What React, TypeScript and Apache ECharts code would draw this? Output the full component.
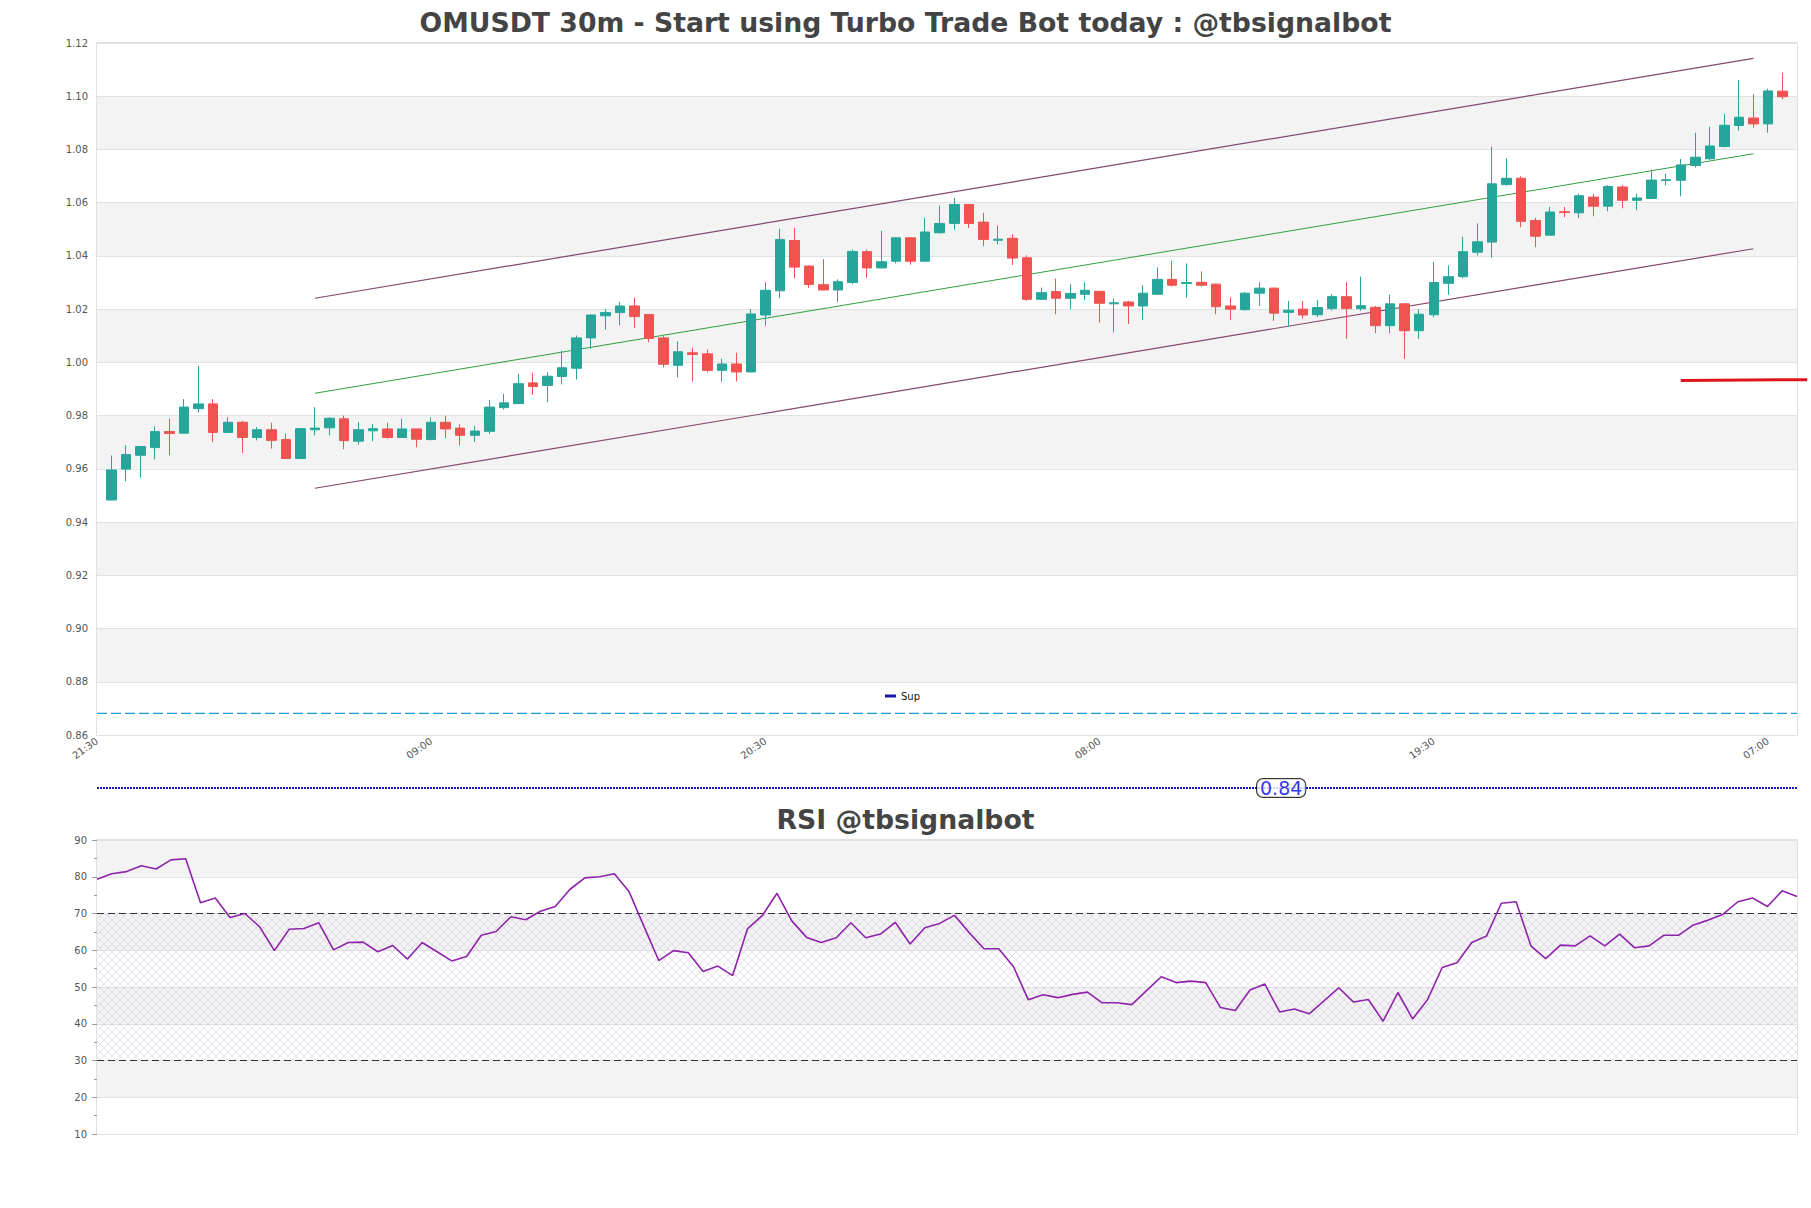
import React, { useEffect, useRef } from 'react';
import * as echarts from 'echarts';

// ---- Candles (30m), index 0 = 22:00 ----
const OPEN = [
  0.9483, 0.9599, 0.9651, 0.968, 0.974, 0.9734, 0.9826, 0.9844, 0.9737, 0.9775,
  0.9718, 0.9747, 0.971, 0.9639, 0.9747, 0.9754, 0.9788, 0.9704, 0.9743, 0.975,
  0.9718, 0.975, 0.971, 0.9775, 0.9753, 0.9726, 0.9741, 0.983, 0.9845, 0.9923,
  0.9913, 0.9947, 0.9978, 1.0092, 1.0175, 1.0187, 1.0212, 1.018, 1.0092, 0.9989,
  1.0036, 1.0032, 0.997, 0.9994, 0.9964, 1.0178, 1.0269, 1.0458, 1.0362, 1.0292,
  1.0272, 1.03, 1.0416, 1.0355, 1.038, 1.0468, 1.038, 1.0487, 1.0522, 1.0593,
  1.0527, 1.0459, 1.0466, 1.0393, 1.0237, 1.0266, 1.0241, 1.0256, 1.0267, 1.022,
  1.0227, 1.0212, 1.0256, 1.0312, 1.0296, 1.0301, 1.0294, 1.0212, 1.0198, 1.026,
  1.0279, 1.0188, 1.02, 1.0179, 1.0202, 1.0247, 1.0202, 1.0207, 1.0138, 1.022,
  1.0119, 1.0179, 1.0297, 1.0322, 1.0414, 1.0452, 1.0668, 1.0692, 1.0533, 1.0478,
  1.0566, 1.0562, 1.0621, 1.0587, 1.0659, 1.0609, 1.0616, 1.0683, 1.0684, 1.074,
  1.0765, 1.0811, 1.089, 1.0918, 1.0896, 1.1019,
];
const CLOSE = [
  0.9596, 0.9654, 0.9684, 0.974, 0.9733, 0.9832, 0.9844, 0.9737, 0.9775, 0.9718,
  0.9747, 0.9707, 0.9639, 0.9751, 0.9753, 0.979, 0.9706, 0.9747, 0.9751, 0.9718,
  0.975, 0.9711, 0.9775, 0.975, 0.9726, 0.9742, 0.9832, 0.9848, 0.992, 0.9909,
  0.9948, 0.998, 1.0092, 1.0178, 1.0187, 1.0212, 1.0172, 1.009, 0.9993, 1.004,
  1.003, 0.997, 0.9994, 0.9964, 1.0182, 1.0271, 1.0462, 1.0358, 1.0293, 1.0272,
  1.0303, 1.0417, 1.0355, 1.0378, 1.0468, 1.038, 1.049, 1.0522, 1.0593, 1.0522,
  1.0462, 1.0463, 1.0392, 1.0237, 1.0262, 1.0241, 1.0259, 1.0271, 1.0222, 1.0224,
  1.0212, 1.026, 1.0312, 1.029, 1.03, 1.029, 1.0209, 1.02, 1.026, 1.0279,
  1.0185, 1.0196, 1.0178, 1.0206, 1.0247, 1.0202, 1.0213, 1.0138, 1.022, 1.0119,
  1.0181, 1.03, 1.0322, 1.0416, 1.0453, 1.0671, 1.0692, 1.053, 1.0474, 1.0565,
  1.0563, 1.0626, 1.0587, 1.0661, 1.0609, 1.0618, 1.0685, 1.0686, 1.0742, 1.0771,
  1.0813, 1.0891, 1.0921, 1.0896, 1.102, 1.0998,
];
const LOW = [
  0.9483, 0.9554, 0.9568, 0.9636, 0.9651, 0.9734, 0.9812, 0.9701, 0.9737, 0.966,
  0.9707, 0.9676, 0.9639, 0.9639, 0.9726, 0.9726, 0.9674, 0.9691, 0.9704, 0.9713,
  0.9718, 0.9681, 0.9707, 0.9716, 0.9688, 0.9701, 0.9731, 0.9823, 0.9845, 0.9878,
  0.9851, 0.9917, 0.9936, 1.0051, 1.0123, 1.014, 1.0129, 1.0076, 0.9981, 0.9944,
  0.9928, 0.9963, 0.9928, 0.9928, 0.9964, 1.0138, 1.0241, 1.0316, 1.028, 1.0272,
  1.0227, 1.0294, 1.0318, 1.0355, 1.0372, 1.0367, 1.038, 1.0484, 1.0499, 1.0505,
  1.0437, 1.0443, 1.0366, 1.0231, 1.0235, 1.0181, 1.02, 1.0234, 1.015, 1.0113,
  1.0144, 1.016, 1.0256, 1.0285, 1.0244, 1.0285, 1.0181, 1.016, 1.0194, 1.0212,
  1.0156, 1.0135, 1.0165, 1.017, 1.0195, 1.0088, 1.0194, 1.011, 1.011, 1.0013,
  1.0088, 1.0169, 1.0254, 1.0315, 1.0402, 1.0393, 1.0664, 1.0508, 1.0433, 1.0478,
  1.0546, 1.0542, 1.0549, 1.0568, 1.0579, 1.0572, 1.0614, 1.0665, 1.0624, 1.0732,
  1.0761, 1.0808, 1.0871, 1.0882, 1.0863, 1.0988,
];
const HIGH = [
  0.965, 0.9689, 0.9686, 0.9759, 0.9788, 0.9862, 0.9987, 0.9862, 0.9794, 0.9781,
  0.9757, 0.9773, 0.9732, 0.9751, 0.9832, 0.9794, 0.98, 0.9776, 0.9769, 0.9773,
  0.9788, 0.975, 0.9794, 0.98, 0.9767, 0.9761, 0.9859, 0.9882, 0.9957, 0.9961,
  0.9963, 1.0044, 1.0101, 1.018, 1.0201, 1.0228, 1.0243, 1.0182, 1.0099, 1.0079,
  1.0055, 1.0048, 1.0014, 1.0036, 1.02, 1.03, 1.0502, 1.0505, 1.0364, 1.0388,
  1.0312, 1.0424, 1.0424, 1.0494, 1.047, 1.047, 1.0543, 1.0589, 1.0618, 1.0595,
  1.0562, 1.0514, 1.0481, 1.0402, 1.0281, 1.0315, 1.0294, 1.03, 1.0269, 1.024,
  1.0231, 1.029, 1.0357, 1.0382, 1.0372, 1.0342, 1.0296, 1.0244, 1.0265, 1.03,
  1.0281, 1.0231, 1.0231, 1.0235, 1.0256, 1.03, 1.0322, 1.0212, 1.0254, 1.0222,
  1.02, 1.0378, 1.0364, 1.0472, 1.0522, 1.081, 1.0766, 1.0699, 1.0543, 1.0584,
  1.0584, 1.0634, 1.0634, 1.0666, 1.0666, 1.0634, 1.0721, 1.0709, 1.0764, 1.0863,
  1.0885, 1.0933, 1.106, 1.1007, 1.1028, 1.1088,
];

// ---- RSI ----
const RSI = [
  79.3, 80.8, 81.4, 83.0, 82.1, 84.6, 84.9, 72.9, 74.2, 68.9,
  70.0, 66.4, 59.9, 65.7, 65.9, 67.5, 60.1, 62.1, 62.2, 59.6,
  61.3, 57.6, 62.1, 59.6, 57.1, 58.3, 64.1, 65.1, 69.1, 68.3,
  70.6, 71.9, 76.6, 79.7, 80.0, 80.8, 75.9, 66.5, 57.2, 59.9,
  59.3, 54.2, 55.7, 53.1, 65.8, 69.4, 75.5, 68.0, 63.5, 62.1,
  63.4, 67.5, 63.4, 64.4, 67.6, 61.7, 66.1, 67.3, 69.5, 64.8,
  60.4, 60.4, 55.5, 46.5, 47.9, 47.1, 48.0, 48.6, 45.7, 45.7,
  45.2, 49.0, 52.8, 51.2, 51.6, 51.2, 44.4, 43.6, 49.2, 50.8,
  43.2, 44.0, 42.7, 46.2, 49.8, 45.9, 46.6, 40.7, 48.5, 41.3,
  46.5, 55.3, 56.6, 62.1, 63.9, 72.8, 73.2, 61.2, 57.7, 61.4,
  61.2, 63.9, 61.2, 64.4, 60.7, 61.2, 64.1, 64.1, 66.9, 68.2,
  69.8, 73.2, 74.2, 71.9, 76.2, 74.6,
];
const RSI_LEVELS = [70, 30];

// ---- Channel (candle index start/end, value at start/end) ----
const CHANNEL_IDX = [14, 113];
const CHANNEL_UPPER = [1.0241, 1.1142];
const CHANNEL_MID = [0.9884, 1.0784];
const CHANNEL_LOWER = [0.9527, 1.0427];

// ---- Other levels ----
const SUP_LEVEL = 0.8681;
const RED_IDX = [108, 116.7];
const RED_LEVEL = [0.9932, 0.9935];
const BOTTOM_LEVEL = 0.84;
const BOTTOM_LABEL_IDX = 80.5;

// ---- X ticks ----
const START_TIME = '21:30';
const STEP_MIN = 30;
const TICK_EVERY = 23;

const FONT = 'DejaVu Sans';
const X_SHIFT = 1; // axis slot 0 = START_TIME, first candle in slot 1
const X_MAX = OPEN.length + 1;
const X_MAX_EXT = X_MAX + 1; // slightly wider axis so the red level can run past the frame

const PLOT_LEFT = 97;
const PLOT_WIDTH = 1700;

function pad(n: number) {
  return (n < 10 ? '0' : '') + n;
}
function timeLabel(v: number) {
  const [h, m] = START_TIME.split(':').map(Number);
  const t = (((h * 60 + m + Math.round(v) * STEP_MIN) % 1440) + 1440) % 1440;
  return pad(Math.floor(t / 60)) + ':' + pad(t % 60);
}

const hatchSvg =
  "<svg xmlns='http://www.w3.org/2000/svg' width='8' height='8'>" +
  "<path d='M0 0L8 8M8 0L0 8' stroke='#bfaed2' stroke-width='0.5' fill='none'/></svg>";
const hatchUrl = 'data:image/svg+xml;charset=utf-8,' + encodeURIComponent(hatchSvg);

function buildOption(): any {
  const candles = OPEN.map((o, i) => [i + X_SHIFT, o, CLOSE[i], LOW[i], HIGH[i]]);
  const seg = (vals: number[]) => [
    [CHANNEL_IDX[0] + X_SHIFT, vals[0]],
    [CHANNEL_IDX[1] + X_SHIFT, vals[1]],
  ];
  const axisLabelStyle = { fontSize: 10, color: '#555', fontFamily: FONT };
  const titleStyle = { fontSize: 26.7, fontWeight: 'bold', color: '#444', fontFamily: FONT };
  return {
    animation: false,
    backgroundColor: '#ffffff',
    textStyle: { fontFamily: FONT },
    title: [
      {
        text: 'OMUSDT 30m - Start using Turbo Trade Bot today : @tbsignalbot',
        left: 'center',
        top: 4,
        textStyle: titleStyle,
      },
      { text: 'RSI @tbsignalbot', left: 'center', top: 801, textStyle: titleStyle },
    ],
    legend: {
      data: [{ name: 'Sup', icon: 'rect', itemStyle: { color: '#1616a8' } }],
      left: 880,
      top: 686,
      itemWidth: 11,
      itemHeight: 3,
      itemGap: 6,
      selectedMode: false,
      textStyle: { fontSize: 10, color: '#111', fontFamily: FONT },
    },
    grid: [
      {
        left: PLOT_LEFT, top: 43, width: PLOT_WIDTH, height: 692,
        show: true, borderColor: '#d8d8d8', borderWidth: 1.5, backgroundColor: 'transparent',
        containLabel: false, outerBoundsMode: 'none',
      },
      { left: PLOT_LEFT, top: 778, width: PLOT_WIDTH, height: 20, containLabel: false, outerBoundsMode: 'none' },
      {
        left: PLOT_LEFT, top: 840, width: PLOT_WIDTH, height: 294,
        show: true, borderColor: '#d8d8d8', borderWidth: 1.5, backgroundColor: 'transparent',
        containLabel: false, outerBoundsMode: 'none',
      },
      {
        left: PLOT_LEFT, top: 43, width: (PLOT_WIDTH * X_MAX_EXT) / X_MAX, height: 692,
        containLabel: false, outerBoundsMode: 'none',
      },
    ],
    xAxis: [
      {
        type: 'value', gridIndex: 0, min: 0, max: X_MAX, interval: TICK_EVERY,
        axisLine: { show: false }, axisTick: { show: false }, splitLine: { show: false },
        axisLabel: {
          ...axisLabelStyle,
          rotate: 35,
          margin: 5,
          formatter: (v: number) => (Math.round(v) % TICK_EVERY === 0 && v < X_MAX ? timeLabel(v) : ''),
        },
      },
      { type: 'value', gridIndex: 1, min: 0, max: X_MAX, show: false },
      {
        type: 'category', gridIndex: 2, data: RSI.map((_, i) => String(i)), boundaryGap: false,
        axisLine: { show: false }, axisTick: { show: false }, axisLabel: { show: false }, splitLine: { show: false },
      },
      { type: 'value', gridIndex: 3, min: 0, max: X_MAX_EXT, show: false },
    ],
    yAxis: [
      {
        type: 'value', gridIndex: 0, min: 0.86, max: 1.12, interval: 0.02,
        axisLine: { show: false }, axisTick: { show: false },
        axisLabel: { ...axisLabelStyle, margin: 9, formatter: (v: number) => v.toFixed(2) },
        splitLine: { show: true, lineStyle: { color: '#e2e2e2', width: 1.2 } },
        splitArea: { show: true, areaStyle: { color: ['#ffffff', '#f3f3f3'] } },
      },
      { type: 'value', gridIndex: 1, min: 0.83, max: 0.85, show: false },
      {
        type: 'value', gridIndex: 2, min: 10, max: 90, interval: 10,
        axisLine: { show: false },
        axisTick: { show: true, length: 5, lineStyle: { color: '#999', width: 1 } },
        minorTick: { show: true, splitNumber: 2, length: 3, lineStyle: { color: '#999', width: 1 } },
        axisLabel: { ...axisLabelStyle, margin: 10 },
        splitLine: { show: true, lineStyle: { color: '#e2e2e2', width: 1.2 } },
        splitArea: { show: true, areaStyle: { color: ['#ffffff', '#f3f3f3'] } },
      },
      { type: 'value', gridIndex: 3, min: 0.86, max: 1.12, show: false },
    ],
    series: [
      {
        type: 'candlestick', name: 'OMUSDT', xAxisIndex: 0, yAxisIndex: 0,
        data: candles, barWidth: 10,
        itemStyle: {
          color: '#26a69a', color0: '#ef5350',
          borderColor: '#26a69a', borderColor0: '#ef5350', borderWidth: 1,
        },
        z: 5,
      },
      {
        type: 'line', name: 'Upper', xAxisIndex: 0, yAxisIndex: 0, data: seg(CHANNEL_UPPER),
        symbol: 'none', lineStyle: { color: '#84486a', width: 1.2 }, z: 4,
      },
      {
        type: 'line', name: 'Mid', xAxisIndex: 0, yAxisIndex: 0, data: seg(CHANNEL_MID),
        symbol: 'none', lineStyle: { color: '#2ea043', width: 1 }, z: 4,
      },
      {
        type: 'line', name: 'Lower', xAxisIndex: 0, yAxisIndex: 0, data: seg(CHANNEL_LOWER),
        symbol: 'none', lineStyle: { color: '#84486a', width: 1.2 }, z: 4,
      },
      {
        type: 'line', name: 'Sup', xAxisIndex: 0, yAxisIndex: 0,
        data: [[0, SUP_LEVEL], [X_MAX, SUP_LEVEL]],
        symbol: 'none', lineStyle: { color: '#1f9bd9', width: 1.2, type: [10, 4] }, z: 4,
      },
      {
        type: 'line', name: 'Level', xAxisIndex: 3, yAxisIndex: 3, clip: false,
        data: [[RED_IDX[0] + X_SHIFT, RED_LEVEL[0]], [RED_IDX[1] + X_SHIFT, RED_LEVEL[1]]],
        symbol: 'none', lineStyle: { color: '#e0141c', width: 3 }, z: 6,
      },
      {
        type: 'line', name: 'Bottom', xAxisIndex: 1, yAxisIndex: 1,
        data: [[0, BOTTOM_LEVEL], [X_MAX, BOTTOM_LEVEL]],
        symbol: 'none', lineStyle: { color: '#1a1ac0', width: 2, type: [2, 1] },
      },
      {
        type: 'scatter', name: 'BottomLabel', xAxisIndex: 1, yAxisIndex: 1,
        data: [[BOTTOM_LABEL_IDX + X_SHIFT, BOTTOM_LEVEL]], symbolSize: 0,
        label: {
          show: true, position: 'inside', formatter: () => BOTTOM_LEVEL.toFixed(2),
          color: '#0000ee', fontSize: 19, fontFamily: FONT,
          backgroundColor: '#ffffff', borderColor: '#000', borderWidth: 1, borderRadius: 6,
          padding: [0, 3, -1, 3],
        },
        z: 10,
      },
      {
        type: 'line', name: 'RSI', xAxisIndex: 2, yAxisIndex: 2, data: RSI,
        symbol: 'none', lineStyle: { color: '#8e24aa', width: 1.6 }, z: 5,
        markLine: {
          silent: true, symbol: 'none', label: { show: false },
          lineStyle: { color: '#333', width: 1.2, type: [7, 4] },
          data: RSI_LEVELS.map((v) => ({ yAxis: v })),
        },
        markArea: {
          silent: true,
          itemStyle: {
            color: { image: hatchUrl, repeat: 'repeat', imageWidth: 8, imageHeight: 8 },
            opacity: 0.7,
          },
          data: [[{ yAxis: RSI_LEVELS[1] }, { yAxis: RSI_LEVELS[0] }]],
        },
      },
    ],
  };
}

export default function App() {
  const ref = useRef<HTMLDivElement>(null);
  useEffect(() => {
    if (!ref.current) return;
    const chart = echarts.init(ref.current, null, { renderer: 'svg' });
    chart.setOption(buildOption());
    return () => chart.dispose();
  }, []);
  return (
    <div
      ref={ref}
      style={{ position: 'absolute', left: 0, top: 0, width: 1811, height: 1208, background: '#fff' }}
    />
  );
}
